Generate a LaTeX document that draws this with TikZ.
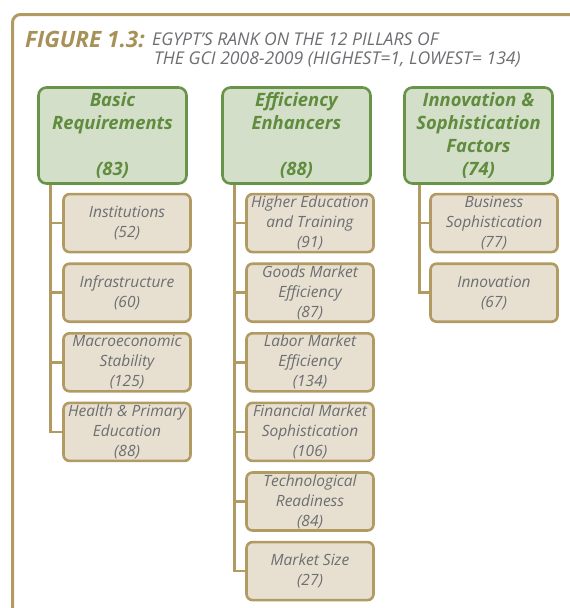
\documentclass[tikz,border=0pt]{standalone}
\usepackage{fontspec}
\setmainfont{Open Sans}
\usetikzlibrary{positioning}
\definecolor{cTan}{RGB}{178,155,98}
\definecolor{cTanFill}{RGB}{231,224,209}
\definecolor{cGrey}{RGB}{109,110,113}
\definecolor{cGreenLine}{RGB}{104,148,74}
\definecolor{cGreenFill}{RGB}{212,223,201}
\definecolor{cGreenText}{RGB}{96,140,62}
\definecolor{cFigure}{RGB}{168,145,88}
\tikzset{
	frame/.style     ={draw=cTan, line width=3pt, rounded corners=8pt},
	pillargroup/.style={rectangle, rounded corners=8pt, draw=cGreenLine, fill=cGreenFill, line width=2.6pt, minimum width=148pt, minimum height=96pt, align=center, text=cGreenText, font=\fontsize{18.4}{23}\selectfont\bfseries\itshape},
	pillar/.style    ={rectangle, rounded corners=6pt, draw=cTan, fill=cTanFill, line width=2.6pt, minimum width=127pt, minimum height=58pt, align=center, text=cGrey, font=\fontsize{15.5}{20}\selectfont\itshape, inner sep=1pt},
	link/.style      ={draw=cTan, line width=2.6pt},
	% title texts
	figlabel/.style  ={anchor=west, inner sep=0pt, text=cFigure, font=\fontsize{22.5}{22}\selectfont\bfseries\itshape},
	figtext/.style   ={anchor=west, inner sep=0pt, text=cGrey, font=\fontsize{17.6}{22}\selectfont\itshape},
}
\begin{document}
\begin{tikzpicture}[x=1pt, y=-1pt, node distance=9pt]
					\useasboundingbox (0,0) rectangle (570,608);
					\draw[frame] (12.5,14.5) rectangle (600,640);
					\node[figlabel] (fig) at (25,39) {FIGURE 1.3:};
					\node[figtext] (cap1) at (152,39) {EGYPT'S RANK ON THE 12 PILLARS OF};
					\node[figtext] (cap2) at (154,60) {THE GCI 2008-2009 (HIGHEST=1, LOWEST= 134)};
					% three groups of pillars
					\node[pillargroup] (basic) at (112.5,135.5) {Basic\\ Requirements\\ \\ (83)};
					\node[pillargroup] (eff) at (296.5,135.5) {Efficiency\\ Enhancers\\ \\ (88)};
					\node[pillargroup] (inno) at (478.5,135.5) {Innovation \&\\ Sophistication\\ Factors\\ (74)};
					% basic requirements
					\node[pillar, below=8pt of basic.south west, anchor=north west, xshift=25pt] (inst) {Institutions\\ (52)};
					\node[pillar, below=of inst] (infra) {Infrastructure\\ (60)};
					\node[pillar, below=of infra] (macro) {Macroeconomic\\ Stability\\ (125)};
					\node[pillar, below=of macro] (health) {Health \& Primary\\ Education\\ (88)};
					% efficiency enhancers
					\node[pillar, below=8pt of eff.south west, anchor=north west, xshift=24pt] (higher) {Higher Education\\ and Training\\ (91)};
					\node[pillar, below=of higher] (goods) {Goods Market\\ Efficiency\\ (87)};
					\node[pillar, below=of goods] (labor) {Labor Market\\ Efficiency\\ (134)};
					\node[pillar, below=of labor] (finance) {Financial Market\\ Sophistication\\ (106)};
					\node[pillar, below=of finance] (tech) {Technological\\ Readiness\\ (84)};
					\node[pillar, below=of tech] (size) {Market Size\\ (27)};
					% innovation and sophistication
					\node[pillar, below=8pt of inno.south west, anchor=north west, xshift=26pt] (business) {Business\\ Sophistication\\ (77)};
					\node[pillar, below=of business] (innov) {Innovation\\ (67)};
					\foreach \c in {inst,infra,macro,health} \draw[link] ([xshift=13.5pt]basic.south west) |- (\c.west);
					\foreach \c in {higher,goods,labor,finance,tech,size} \draw[link] ([xshift=13pt]eff.south west) |- (\c.west);
					\foreach \c in {business,innov} \draw[link] ([xshift=16pt]inno.south west) |- (\c.west);
				\end{tikzpicture}
\end{document}
